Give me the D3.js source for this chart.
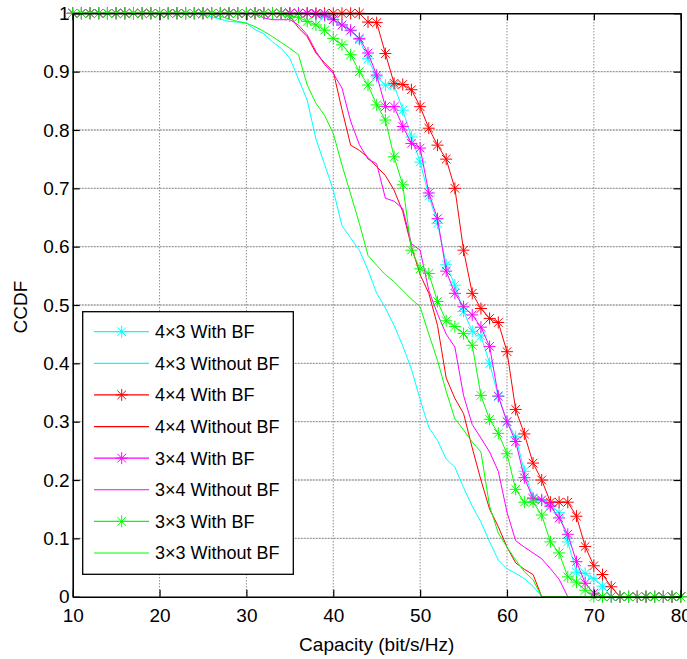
<!DOCTYPE html>
<html>
<head>
<meta charset="utf-8">
<script src="https://cdn.jsdelivr.net/npm/d3@7"></script>
<style>
  html, body { margin: 0; padding: 0; background: #fff; }
  svg { display: block; }
  text { font-family: "Liberation Sans", Arial, sans-serif; fill: #000; }
</style>
</head>
<body>
<svg id="chart" width="687" height="659"></svg>
<script>
// ---------------- data ----------------
const capacity = [10,11,12,13,14,15,16,17,18,19,
  20,21,22,23,24,25,26,27,28,29,
  30,31,32,33,34,35,36,37,38,39,
  40,41,42,43,44,45,46,47,48,49,
  50,51,52,53,54,55,56,57,58,59,
  60,61,62,63,64,65,66,67,68,69,
  70,71,72,73,74,75,76,77,78,79,
  80];

const ccdf4x3With = [1,1,1,1,1,1,1,1,1,1,
  1,1,1,1,1,1,1,1,1,1,
  1,1,1,1,1,1,1,1,0.998,0.995,
  0.99,0.98,0.97,0.955,0.922,0.891,0.877,0.877,0.834,0.788,
  0.745,0.687,0.64,0.569,0.534,0.489,0.455,0.447,0.400,0.343,
  0.300,0.274,0.215,0.170,0.165,0.157,0.144,0.094,0.042,0.040,
  0.031,0.018,0,0,0,0,0,0,0,0,
  0];

const ccdf4x3Without = [1,1,1,1,1,1,1,1,1,1,
  1,1,1,1,1,0.998,0.994,0.99,0.986,0.985,
  0.983,0.972,0.965,0.951,0.94,0.923,0.887,0.851,0.785,0.741,
  0.697,0.636,0.615,0.594,0.56,0.52,0.495,0.465,0.43,0.39,
  0.338,0.29,0.268,0.236,0.222,0.187,0.155,0.128,0.094,0.063,
  0.048,0.04,0.031,0.018,0,0,0,0,0,0,
  0,0,0,0,0,0,0,0,0,0,
  0];

const ccdf4x4With = [1,1,1,1,1,1,1,1,1,1,
  1,1,1,1,1,1,1,1,1,1,
  1,1,1,1,1,1,1,1,1,1,
  1,1,1,1,0.985,0.984,0.931,0.880,0.878,0.869,
  0.840,0.803,0.774,0.750,0.700,0.594,0.520,0.494,0.477,0.470,
  0.420,0.321,0.279,0.229,0.200,0.162,0.162,0.162,0.138,0.086,
  0.053,0.038,0.017,0,0,0,0,0,0,0,
  0];

const ccdf4x4Without = [1,1,1,1,1,1,1,1,1,1,
  1,1,1,1,1,1,1,1,1,1,
  1,1,1,1,1,0.995,0.975,0.96,0.932,0.915,
  0.90,0.835,0.774,0.765,0.753,0.737,0.722,0.697,0.66,0.60,
  0.552,0.52,0.465,0.375,0.34,0.314,0.255,0.2,0.15,0.12,
  0.085,0.058,0.047,0.038,0,0,0,0,0,0,
  0,0,0,0,0,0,0,0,0,0,
  0];

const ccdf3x4With = [1,1,1,1,1,1,1,1,1,1,
  1,1,1,1,1,1,1,1,1,1,
  1,1,1,1,1,1,1,1,0.999,0.997,
  0.989,0.980,0.971,0.957,0.932,0.894,0.840,0.840,0.806,0.777,
  0.769,0.692,0.648,0.558,0.520,0.497,0.483,0.462,0.429,0.344,
  0.300,0.266,0.204,0.168,0.166,0.155,0.135,0.107,0.060,0.023,
  0.006,0,0,0,0,0,0,0,0,0,
  0];

const ccdf3x4Without = [1,1,1,1,1,1,1,1,1,1,
  1,1,1,1,1,1,1,1,1,1,
  1,1,0.992,0.989,0.989,0.989,0.98,0.963,0.935,0.912,
  0.897,0.872,0.815,0.775,0.75,0.742,0.683,0.678,0.665,0.605,
  0.594,0.525,0.485,0.45,0.428,0.345,0.295,0.272,0.248,0.215,
  0.145,0.096,0.085,0.075,0.065,0.048,0.03,0,0,0,
  0,0,0,0,0,0,0,0,0,0,
  0];

const ccdf3x3With = [1,1,1,1,1,1,1,1,1,1,
  1,1,1,1,1,1,1,1,1,1,
  1,1,1,1,1,0.995,0.993,0.986,0.980,0.971,
  0.957,0.946,0.929,0.900,0.877,0.843,0.817,0.754,0.706,0.594,
  0.562,0.554,0.506,0.473,0.463,0.451,0.431,0.345,0.304,0.280,
  0.245,0.184,0.162,0.162,0.140,0.094,0.075,0.034,0.025,0.011,
  0,0,0,0,0,0,0,0,0,0,
  0];

const ccdf3x3Without = [1,1,1,1,1,1,1,1,1,1,
  1,1,1,1,1,1,1,0.995,0.99,0.986,
  0.983,0.977,0.969,0.96,0.95,0.94,0.929,0.877,0.846,0.825,
  0.794,0.74,0.69,0.64,0.585,0.568,0.552,0.54,0.525,0.51,
  0.497,0.45,0.405,0.352,0.305,0.286,0.265,0.248,0.155,0.109,
  0.085,0.063,0.043,0.029,0,0,0,0,0,0,
  0,0,0,0,0,0,0,0,0,0,
  0];

const seriesNames = ["4×3 With BF","4×3 Without BF","4×4 With BF","4×4 Without BF",
                     "3×4 With BF","3×4 Without BF","3×3 With BF","3×3 Without BF"];
const seriesValues = [ccdf4x3With, ccdf4x3Without, ccdf4x4With, ccdf4x4Without,
                      ccdf3x4With, ccdf3x4Without, ccdf3x3With, ccdf3x3Without];
const seriesColors = ["#00ffff","#00ffff","#ff0000","#ff0000","#ff00ff","#ff00ff","#00ff00","#00ff00"];
const seriesMarker = [true,false,true,false,true,false,true,false];

const xTicks = [10,20,30,40,50,60,70,80];
const yTicks = [0,0.1,0.2,0.3,0.4,0.5,0.6,0.7,0.8,0.9,1];
const xLabel = "Capacity (bit/s/Hz)";
const yLabel = "CCDF";

// ---------------- drawing ----------------
const svg = d3.select("#chart");
const L = 72.7, R = 680.7, T = 13.3, B = 596.7;
const x = d3.scaleLinear().domain([10, 80]).range([L, R]);
const y = d3.scaleLinear().domain([0, 1]).range([B, T]);

svg.append("rect").attr("width", 687).attr("height", 659).attr("fill", "#fff");

// grid
const grid = svg.append("g");
grid.selectAll("line.v").data(xTicks.filter(t => t > 10 && t < 80)).enter().append("line")
  .attr("x1", d => x(d)).attr("x2", d => x(d)).attr("y1", T).attr("y2", B)
  .attr("stroke", "#333").attr("stroke-width", 0.8).attr("stroke-dasharray", "1,2");
grid.selectAll("line.h").data(yTicks.filter(t => t > 0 && t < 1)).enter().append("line")
  .attr("x1", L).attr("x2", R).attr("y1", d => y(d)).attr("y2", d => y(d))
  .attr("stroke", "#999").attr("stroke-width", 1.3).attr("stroke-dasharray", "2,1");

// series
const lineGen = d3.line().x((d) => x(d[0])).y((d) => y(d[1]));
const star = "M-6,0H6M0,-6V6M-4.3,-4.3L4.3,4.3M-4.3,4.3L4.3,-4.3";
const plot = svg.append("g");
seriesValues.forEach((vals, i) => {
  const pts = capacity.map((c, k) => [c, vals[k]]);
  const g = plot.append("g");
  g.append("path").attr("d", lineGen(pts)).attr("fill", "none")
    .attr("stroke", seriesColors[i]).attr("stroke-width", 1);
  if (seriesMarker[i]) {
    g.selectAll("path.m").data(pts).enter().append("path")
      .attr("d", star)
      .attr("transform", d => `translate(${x(d[0])},${y(d[1])})`)
      .attr("fill", "none").attr("stroke", seriesColors[i]).attr("stroke-width", 1);
  }
});

// axes
const fmtY = d => d === 0 ? "0" : d === 1 ? "1" : d3.format(".1f")(d);
const axB = svg.append("g").attr("transform", `translate(0,${B})`)
  .call(d3.axisBottom(x).tickValues(xTicks).tickSizeInner(-7).tickSizeOuter(0).tickPadding(12).tickFormat(d3.format("d")));
const axL = svg.append("g").attr("transform", `translate(${L},0)`)
  .call(d3.axisLeft(y).tickValues(yTicks).tickSizeInner(-7).tickSizeOuter(0).tickPadding(3).tickFormat(fmtY));
const axT = svg.append("g").attr("transform", `translate(0,${T})`)
  .call(d3.axisTop(x).tickValues(xTicks).tickSizeInner(-7).tickSizeOuter(0).tickFormat(""));
const axR = svg.append("g").attr("transform", `translate(${R},0)`)
  .call(d3.axisRight(y).tickValues(yTicks).tickSizeInner(-7).tickSizeOuter(0).tickFormat(""));
[axB, axL, axT, axR].forEach(a => {
  a.select(".domain").attr("stroke", "#000").attr("stroke-width", 1.6);
  a.selectAll(".tick line").attr("stroke", "#000").attr("stroke-width", 1.2);
  a.selectAll(".tick text").attr("font-size", 19).attr("font-family", "Liberation Sans, Arial, sans-serif").attr("fill", "#000");
});

// axis titles
svg.append("text").attr("x", (L + R) / 2).attr("y", 651).attr("text-anchor", "middle")
  .attr("font-size", 19).text(xLabel);
svg.append("text").attr("transform", "translate(27,307) rotate(-90)").attr("text-anchor", "middle")
  .attr("font-size", 19).text(yLabel);

// legend
const lgX0 = 82.7, lgX1 = 293.3, lgY0 = 311.7, lgY1 = 574.3;
const lg = svg.append("g");
lg.append("rect").attr("x", lgX0).attr("y", lgY0).attr("width", lgX1 - lgX0).attr("height", lgY1 - lgY0)
  .attr("fill", "#fff").attr("stroke", "#000").attr("stroke-width", 1.3);
const rowY = d3.scaleLinear().domain([0, 7]).range([331.7, 553]);
seriesNames.forEach((name, i) => {
  const yy = rowY(i);
  lg.append("line").attr("x1", 94).attr("x2", 149).attr("y1", yy).attr("y2", yy)
    .attr("stroke", seriesColors[i]).attr("stroke-width", 1.2);
  if (seriesMarker[i]) {
    lg.append("path").attr("d", star).attr("transform", `translate(121.7,${yy})`)
      .attr("fill", "none").attr("stroke", seriesColors[i]).attr("stroke-width", 1);
  }
  lg.append("text").attr("x", 155).attr("y", yy).attr("dy", "0.36em")
    .attr("font-size", 18).text(name);
});
</script>
</body>
</html>
